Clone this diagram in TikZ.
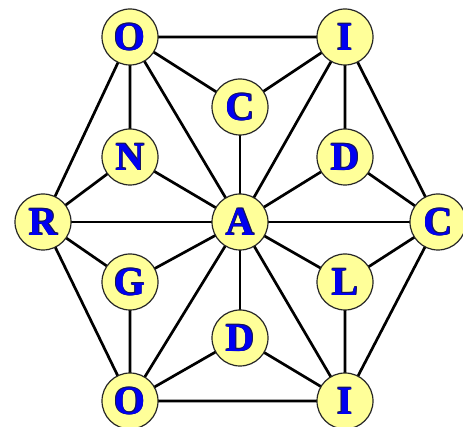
\documentclass[tikz,border=0pt]{standalone}
\usepackage{fontspec}
\setmainfont{Liberation Serif}
\usetikzlibrary{backgrounds}
\definecolor{nodefill}{RGB}{255,255,153}
\definecolor{letter}{RGB}{0,0,240}
\definecolor{letterdark}{RGB}{20,20,90}
\newcommand\olt[1]{\leavevmode
  \rlap{\kern-0.45pt\raisebox{-0.45pt}{\color{letterdark}#1}}%
  \rlap{\kern0.45pt\raisebox{0.45pt}{\color{letterdark}#1}}%
  \rlap{\kern-0.45pt\raisebox{0.45pt}{\color{letterdark}#1}}%
  \rlap{\kern0.45pt\raisebox{-0.45pt}{\color{letterdark}#1}}%
  #1}
\begin{document}
\begin{tikzpicture}[x=1pt,y=-1pt,
  vtx/.style={circle,draw=black!85,line width=1.2pt,fill=nodefill,minimum size=56pt,inner sep=0pt,
    font=\fontsize{40}{40}\selectfont\bfseries,text=letter},
  edge/.style={line width=2.7pt,black}]
\useasboundingbox (0,0) rectangle (463,427);
% outer
\node[vtx] (Ot) at (130,37) {\olt{O}};
\node[vtx] (It) at (345,37) {\olt{I}};
\node[vtx] (Cr) at (438,222) {\olt{C}};
\node[vtx] (Ib) at (345,401) {\olt{I}};
\node[vtx] (Ob) at (130,401) {\olt{O}};
\node[vtx] (R)  at (43,222) {\olt{R}};
% center
\node[vtx] (A) at (240,222) {\olt{A}};
% inner
\node[vtx] (Ci) at (240,107) {\olt{C}};
\node[vtx] (Dr) at (345,157) {\olt{D}};
\node[vtx] (L)  at (345,282) {\olt{L}};
\node[vtx] (Db) at (240,338) {\olt{D}};
\node[vtx] (G)  at (130,282) {\olt{G}};
\node[vtx] (N)  at (130,157) {\olt{N}};
\begin{scope}[on background layer]
  \draw[edge] (Ot.center) -- (It.center) -- (Cr.center) -- (Ib.center) -- (Ob.center) -- (R.center) -- cycle;
  \foreach \n in {Ot,It,Cr,Ib,Ob,R,Ci,Dr,L,Db,G,N}
    \draw[edge] (A.center) -- (\n.center);
  \draw[edge] (Ot.center) -- (Ci.center) -- (It.center);
  \draw[edge] (Ot.center) -- (N.center) -- (R.center);
  \draw[edge] (It.center) -- (Dr.center) -- (Cr.center);
  \draw[edge] (Cr.center) -- (L.center) -- (Ib.center);
  \draw[edge] (Ob.center) -- (Db.center) -- (Ib.center);
  \draw[edge] (R.center) -- (G.center) -- (Ob.center);
\end{scope}
\end{tikzpicture}
\end{document}
